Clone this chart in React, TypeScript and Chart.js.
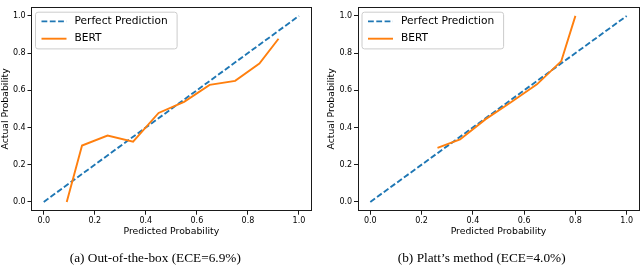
import React, { useEffect, useRef } from 'react';
import { Chart, registerables } from 'chart.js';

Chart.register(...registerables);

// ---- data ----
const AXIS_TICKS = [0, 0.2, 0.4, 0.6, 0.8, 1.0];
const PERFECT_X = [0, 1];
const PERFECT_Y = [0, 1];
const OOB_PRED = [0.09, 0.15, 0.25, 0.35, 0.45, 0.55, 0.65, 0.75, 0.845, 0.92];
const OOB_ACTUAL = [0.0, 0.303, 0.357, 0.324, 0.478, 0.538, 0.629, 0.651, 0.744, 0.877];
const PLATT_PRED = [0.262, 0.35, 0.45, 0.55, 0.65, 0.745, 0.8];
const PLATT_ACTUAL = [0.29, 0.336, 0.445, 0.537, 0.632, 0.757, 1.0];

const LABEL_PERFECT = 'Perfect Prediction';
const LABEL_BERT = 'BERT';
const X_TITLE = 'Predicted Probability';
const Y_TITLE = 'Actual Probability';
const CAPTION_A = '(a) Out-of-the-box (ECE=6.9%)';
const CAPTION_B = '(b) Platt\u2019s method (ECE=4.0%)';

const BLUE = '#1f77b4';
const ORANGE = '#ff7f0e';
const SANS = '"DejaVu Sans", sans-serif';

const frameAndLegend = {
  id: 'frameAndLegend',
  afterDatasetsDraw(chart: any) {
    const { ctx, chartArea } = chart;
    ctx.save();
    // axes frame
    ctx.strokeStyle = '#1a1a1a';
    ctx.lineWidth = 1;
    ctx.setLineDash([]);
    ctx.strokeRect(
      Math.round(chartArea.left) + 0.5,
      Math.round(chartArea.top) + 0.5,
      Math.round(chartArea.right) - Math.round(chartArea.left) - 1,
      Math.round(chartArea.bottom) - Math.round(chartArea.top) - 1
    );
    // legend
    const fontSize = 10.6;
    ctx.font = `${fontSize}px ${SANS}`;
    const ds = chart.data.datasets;
    let tw = 0;
    ds.forEach((d: any) => { tw = Math.max(tw, ctx.measureText(d.label).width); });
    const x0 = chartArea.left + 4.5;
    const y0 = chartArea.top + 5.6;
    const w = 39 + tw + 9.5;
    const h = 36.7;
    const r = 2.5;
    ctx.beginPath();
    ctx.moveTo(x0 + r, y0);
    ctx.lineTo(x0 + w - r, y0);
    ctx.quadraticCurveTo(x0 + w, y0, x0 + w, y0 + r);
    ctx.lineTo(x0 + w, y0 + h - r);
    ctx.quadraticCurveTo(x0 + w, y0 + h, x0 + w - r, y0 + h);
    ctx.lineTo(x0 + r, y0 + h);
    ctx.quadraticCurveTo(x0, y0 + h, x0, y0 + h - r);
    ctx.lineTo(x0, y0 + r);
    ctx.quadraticCurveTo(x0, y0, x0 + r, y0);
    ctx.closePath();
    ctx.fillStyle = 'rgba(255,255,255,0.8)';
    ctx.fill();
    ctx.strokeStyle = '#cccccc';
    ctx.lineWidth = 1;
    ctx.stroke();
    ds.forEach((d: any, i: number) => {
      const cy = y0 + 9.2 + i * 17.3;
      ctx.strokeStyle = d.borderColor;
      ctx.lineWidth = d.borderWidth;
      ctx.setLineDash(d.borderDash || []);
      ctx.beginPath();
      ctx.moveTo(x0 + 6, cy);
      ctx.lineTo(x0 + 31, cy);
      ctx.stroke();
      ctx.setLineDash([]);
      ctx.fillStyle = '#000';
      ctx.textBaseline = 'middle';
      ctx.textAlign = 'left';
      ctx.fillText(d.label, x0 + 39, cy);
    });
    ctx.restore();
  },
};

type PanelProps = {
  pred: number[];
  actual: number[];
  left: number;
  padLeft: number;
  padRight: number;
  caption: string;
  captionX: number;
};

function Panel({ pred, actual, left, padLeft, padRight, caption, captionX }: PanelProps) {
  const ref = useRef<HTMLCanvasElement>(null);
  useEffect(() => {
    const axisCommon = (isX: boolean) => ({
      type: 'linear',
      min: -0.05,
      max: 1.05,
      afterBuildTicks: (s: any) => {
        s.ticks = AXIS_TICKS.map((v) => ({ value: v }));
      },
      afterFit: (s: any) => {
        if (isX) s.height = 30;
        else s.width = 31;
      },
      grid: {
        drawOnChartArea: false,
        drawTicks: true,
        tickLength: 3.5,
        color: '#1a1a1a',
        lineWidth: 1,
      },
      border: { display: false },
      ticks: {
        font: { family: SANS, size: 8 },
        color: '#000',
        padding: isX ? 1.5 : 1.8,
        maxRotation: 0,
        autoSkip: false,
        callback: (v: any) => Number(v).toFixed(1),
      },
      title: {
        display: true,
        text: isX ? X_TITLE : Y_TITLE,
        font: { family: SANS, size: 9.3, lineHeight: 1.1 },
        color: '#000',
        padding: isX ? { top: 0, bottom: 4.8 } : { top: 0, bottom: 0 },
      },
    });
    const chart = new Chart(ref.current!, {
      type: 'line',
      data: {
        datasets: [
          {
            label: LABEL_PERFECT,
            data: PERFECT_X.map((x, i) => ({ x, y: PERFECT_Y[i] })),
            borderColor: BLUE,
            borderWidth: 1.9,
            borderDash: [5.8, 2.5],
            pointRadius: 0,
            fill: false,
            tension: 0,
            order: 2,
          },
          {
            label: LABEL_BERT,
            data: pred.map((x, i) => ({ x, y: actual[i] })),
            borderColor: ORANGE,
            borderWidth: 1.9,
            pointRadius: 0,
            fill: false,
            tension: 0,
            order: 1,
          },
        ],
      },
      options: {
        animation: false,
        responsive: false,
        events: [],
        layout: { padding: { left: padLeft, right: padRight, top: 1.7, bottom: 23.8 } },
        plugins: {
          legend: { display: false },
          tooltip: { enabled: false },
        },
        scales: {
          x: axisCommon(true) as any,
          y: axisCommon(false) as any,
        },
      },
      plugins: [frameAndLegend],
    });
    return () => chart.destroy();
  }, []);
  return (
    <>
      <canvas
        ref={ref}
        width={320}
        height={265}
        style={{ position: 'absolute', left, top: 0, width: 320, height: 265 }}
      />
      <div
        style={{
          position: 'absolute',
          left: captionX - 150,
          top: 249.5,
          width: 300,
          textAlign: 'center',
          fontFamily: '"Liberation Serif", "Times New Roman", serif',
          fontSize: 13.3,
          lineHeight: '15px',
          color: '#000',
          whiteSpace: 'nowrap',
        }}
      >
        {caption}
      </div>
    </>
  );
}

export default function App() {
  return (
    <div
      style={{
        position: 'absolute',
        left: 0,
        top: 0,
        width: 640,
        height: 265,
        background: '#fff',
        overflow: 'hidden',
      }}
    >
      <Panel
        pred={OOB_PRED}
        actual={OOB_ACTUAL}
        left={0}
        padLeft={0}
        padRight={8.3}
        caption={CAPTION_A}
        captionX={155.3}
      />
      <Panel
        pred={PLATT_PRED}
        actual={PLATT_ACTUAL}
        left={320}
        padLeft={6.5}
        padRight={0.5}
        caption={CAPTION_B}
        captionX={481.7}
      />
    </div>
  );
}
